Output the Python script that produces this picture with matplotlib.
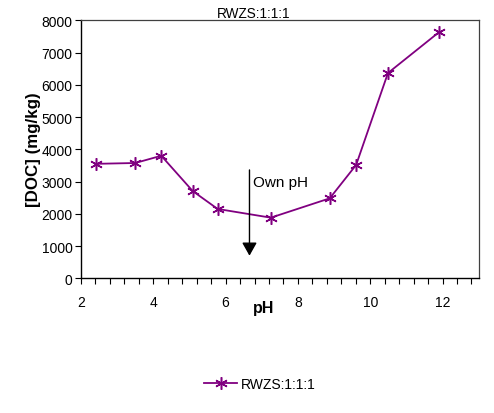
import matplotlib
matplotlib.use("Agg")
import matplotlib.pyplot as plt
from matplotlib.ticker import MultipleLocator

plt.rcParams['font.family'] = ['Liberation Sans', 'DejaVu Sans']

ph = [2.42, 3.50, 4.22, 5.09, 5.78, 7.25, 8.88, 9.61, 10.49, 11.90]
doc = [3550, 3575, 3800, 2705, 2150, 1880, 2480, 3515, 6365, 7630]
series_name = "RWZS:1:1:1"
own_ph = 6.66
arrow_from, arrow_to = 3360, 700

fig = plt.figure(figsize=(4.94, 4.14), dpi=100)
ax = fig.add_axes([81/494, 1-279.3/414, (478.7-81)/494, (279.3-21.3)/414])

purple = '#800080'
ax.plot(ph, doc, color=purple, lw=1.3, marker=(6, 2, 0), ms=9, mew=1.1,
        label=series_name)

ax.set_xlim(2, 13)
ax.set_ylim(0, 8000)
ax.xaxis.set_major_locator(MultipleLocator(2))
ax.xaxis.set_minor_locator(MultipleLocator(0.4))
ax.yaxis.set_major_locator(MultipleLocator(1000))
ax.tick_params(axis='x', which='both', direction='out', length=4, width=0.8,
               labelsize=10, pad=8)
ax.tick_params(axis='y', which='major', direction='out', length=4, width=0.8,
               labelsize=10, pad=2)
for side in ['left', 'bottom']:
    ax.spines[side].set_color('black')
    ax.spines[side].set_linewidth(1.0)
for side in ['top', 'right']:
    ax.spines[side].set_color('#404040')
    ax.spines[side].set_linewidth(0.9)

fig.text(254/494, 1-14/414, series_name, fontsize=9.8, ha='center', va='center')
ax.set_xlabel('pH', fontsize=11.5, fontweight='bold')
ax.xaxis.set_label_coords((263.5-81)/(478.7-81), -0.085)
ax.set_ylabel('[DOC] (mg/kg)', fontsize=12.2, fontweight='bold')
ax.yaxis.set_label_coords(-0.1, 0.503)

ax.annotate('', xy=(own_ph, arrow_to), xytext=(own_ph, arrow_from),
            arrowprops=dict(arrowstyle='-|>,head_length=0.8,head_width=0.45',
                            color='black', lw=1.0, shrinkA=0, shrinkB=0))
ax.text(own_ph + 0.1, 3000, 'Own pH', fontsize=11, ha='left', va='center')

fig.legend(loc='center', bbox_to_anchor=(260/494, 1-385/414), frameon=False,
           fontsize=10, handlelength=2.4, handletextpad=0.3)

fig.savefig('out.png', dpi=100)
